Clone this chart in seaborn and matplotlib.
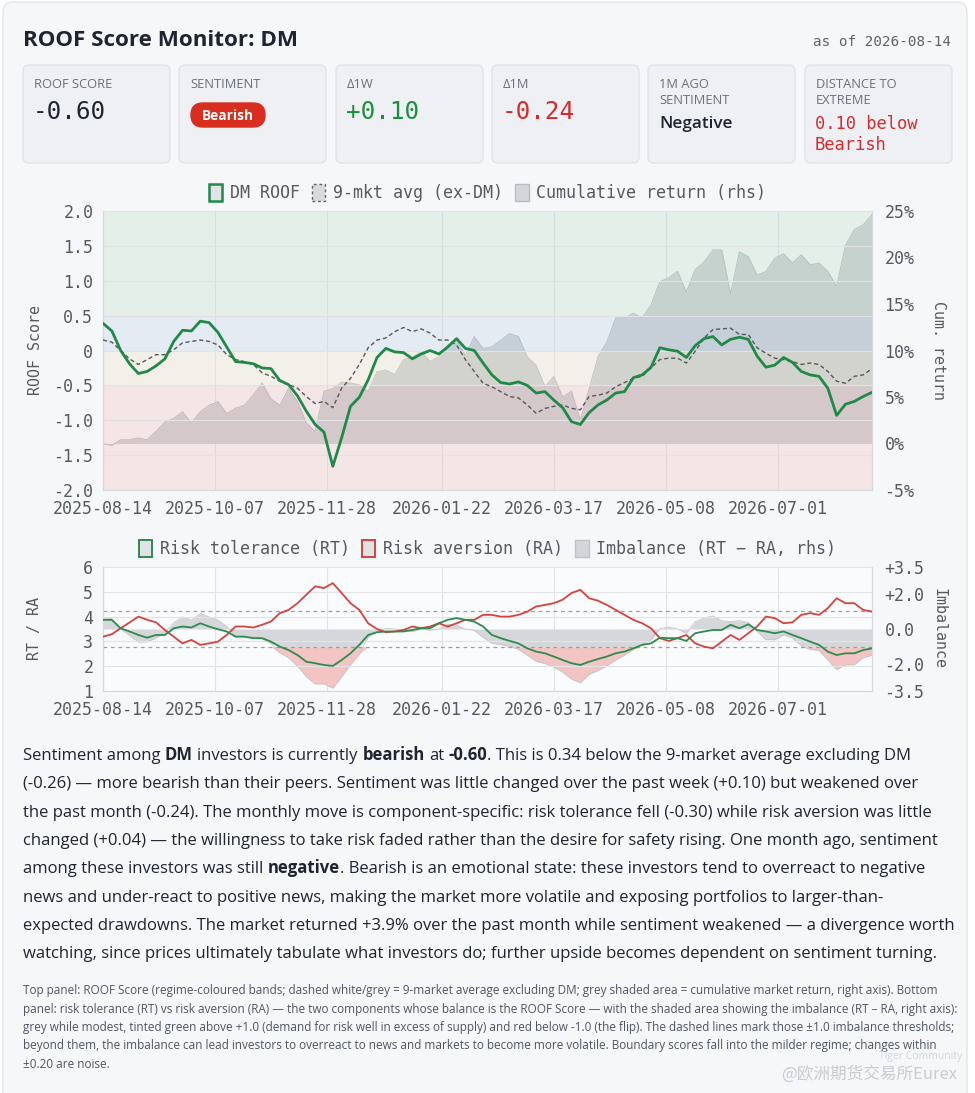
import numpy as np
import pandas as pd
import matplotlib
matplotlib.use("Agg")
import matplotlib.pyplot as plt
import matplotlib.transforms as mtransforms
from matplotlib import font_manager
from matplotlib.patches import FancyBboxPatch, Patch
import seaborn as sns

W, H = 975, 1093
MONO = "DejaVu Sans Mono"

# trading-day calendar; one reading every third trading day
ALL_DAYS = pd.bdate_range("2025-08-14", "2026-08-14")
DAY_POS = np.arange(0, len(ALL_DAYS), 3)
TICK_DATES = ["2025-08-14", "2025-10-07", "2025-11-28", "2026-01-22",
              "2026-03-17", "2026-05-08", "2026-07-01"]

dm_roof = [0.39, 0.28, 0.00, -0.19, -0.33, -0.30, -0.22, -0.12, 0.13, 0.29,
           0.28, 0.42, 0.40, 0.26, 0.05, -0.16, -0.17, -0.19, -0.25, -0.26,
           -0.43, -0.49, -0.65, -0.87, -1.06, -1.17, -1.66, -1.25, -0.80, -0.67,
           -0.42, -0.10, 0.03, -0.02, -0.03, -0.12, -0.05, 0.00, -0.05, 0.05,
           0.17, 0.03, 0.00, -0.18, -0.35, -0.46, -0.48, -0.45, -0.50, -0.61,
           -0.59, -0.71, -0.82, -1.02, -1.06, -0.89, -0.78, -0.71, -0.61, -0.59,
           -0.39, -0.35, -0.24, 0.04, 0.01, -0.01, -0.10, 0.07, 0.17, 0.20,
           0.08, 0.16, 0.19, 0.16, -0.08, -0.24, -0.21, -0.10, -0.17, -0.30,
           -0.35, -0.37, -0.54, -0.93, -0.77, -0.73, -0.66, -0.60]

avg_ex_dm = [0.15, 0.12, 0.00, -0.12, -0.20, -0.13, -0.06, -0.06, 0.01, 0.11,
             0.13, 0.15, 0.13, 0.08, -0.06, -0.13, -0.16, -0.20, -0.32, -0.37,
             -0.44, -0.49, -0.54, -0.66, -0.76, -0.73, -0.82, -0.54, -0.40, -0.20,
             0.04, 0.15, 0.18, 0.27, 0.33, 0.27, 0.31, 0.25, 0.15, 0.15,
             0.08, -0.13, -0.30, -0.47, -0.52, -0.59, -0.66, -0.68, -0.78, -0.90,
             -0.83, -0.80, -0.78, -0.83, -0.85, -0.66, -0.64, -0.61, -0.52, -0.46,
             -0.40, -0.37, -0.25, -0.13, -0.11, -0.11, -0.18, -0.01, 0.18, 0.30,
             0.31, 0.32, 0.23, 0.23, 0.04, -0.04, -0.11, -0.13, -0.16, -0.20,
             -0.18, -0.20, -0.30, -0.44, -0.47, -0.37, -0.35, -0.26]

cum_return = [0.0, -0.2, 0.4, 0.4, 0.6, 0.4, 1.3, 2.3, 2.7, 3.4,
              2.2, 3.4, 4.1, 4.5, 3.2, 3.8, 4.1, 5.2, 6.5, 4.8,
              4.1, 5.9, 4.5, 2.2, 1.3, 5.6, 5.9, 6.6, 6.5, 6.3,
              5.6, 7.7, 7.9, 7.4, 9.0, 9.3, 9.9, 8.8, 9.3, 10.6,
              11.1, 9.5, 11.5, 10.2, 10.4, 11.1, 11.8, 11.5, 9.3, 8.4,
              6.1, 7.2, 5.0, 5.6, 2.5, 5.9, 9.3, 10.9, 13.5, 13.5,
              14.0, 13.5, 14.9, 17.4, 17.8, 18.5, 16.3, 18.7, 19.5, 20.8,
              20.8, 16.1, 20.6, 20.1, 18.1, 18.5, 19.9, 20.4, 19.4, 20.3,
              19.2, 19.4, 18.5, 16.9, 21.3, 23.0, 23.5, 24.6]

risk_tol = [3.87, 3.87, 3.53, 3.40, 3.26, 3.15, 3.26, 3.26, 3.53, 3.60,
            3.56, 3.73, 3.60, 3.49, 3.40, 3.19, 3.19, 3.13, 3.13, 2.99,
            2.79, 2.65, 2.45, 2.18, 2.12, 2.05, 2.01, 2.25, 2.52, 2.86,
            3.26, 3.37, 3.40, 3.40, 3.40, 3.46, 3.53, 3.53, 3.73, 3.87,
            3.94, 3.87, 3.80, 3.60, 3.26, 3.13, 3.02, 2.92, 2.72, 2.59,
            2.52, 2.39, 2.25, 2.12, 2.05, 2.18, 2.29, 2.39, 2.52, 2.59,
            2.72, 2.86, 2.92, 3.15, 3.13, 3.13, 3.02, 3.33, 3.40, 3.46,
            3.46, 3.67, 3.53, 3.69, 3.46, 3.40, 3.33, 3.40, 3.26, 3.13,
            2.99, 2.86, 2.59, 2.45, 2.52, 2.52, 2.65, 2.72]

risk_av = [3.19, 3.29, 3.53, 3.76, 4.00, 3.87, 3.77, 3.46, 3.19, 2.92,
           3.06, 2.86, 2.92, 2.99, 3.26, 3.60, 3.60, 3.56, 3.67, 3.80,
           4.14, 4.27, 4.54, 4.88, 5.22, 5.15, 5.35, 4.95, 4.54, 4.27,
           3.73, 3.50, 3.37, 3.40, 3.46, 3.60, 3.53, 3.60, 3.73, 3.60,
           3.73, 3.87, 3.87, 4.07, 4.07, 4.00, 4.00, 4.07, 4.20, 4.41,
           4.47, 4.54, 4.68, 4.95, 5.08, 4.74, 4.64, 4.47, 4.27, 4.07,
           3.87, 3.73, 3.53, 3.13, 3.02, 3.13, 3.26, 2.92, 2.79, 2.72,
           2.99, 3.26, 3.06, 3.33, 3.60, 4.00, 3.94, 3.73, 3.77, 4.07,
           4.14, 4.07, 4.34, 4.74, 4.54, 4.54, 4.27, 4.20]

ROOF_TICKS = [2.0, 1.5, 1.0, 0.5, 0.0, -0.5, -1.0, -1.5, -2.0]
ROOF_TICK_LABELS = ["2.0", "1.5", "1.0", "0.5", "0", "-0.5", "-1.0", "-1.5", "-2.0"]
RET_TICKS = [25, 20, 15, 10, 5, 0, -5]
RTRA_TICKS = [1, 2, 3, 4, 5, 6]
IMB_TICKS = [3.5, 2.0, 0.0, -2.0, -3.5]
IMB_TICK_LABELS = ["+3.5", "+2.0", "0.0", "-2.0", "-3.5"]
IMB_THRESH = 1.0

# regime bands (drawn half-transparent over the return area)
BANDS = [(0.5, 2.0, "#cde1d5"), (0.0, 0.5, "#cdd9e7"),
         (-0.5, 0.0, "#e7e3d5"), (-2.0, -0.5, "#ebcdcf")]

GREEN = "#1f8a48"
RED = "#d6433f"
TXT = "#1f2430"
GREY_TXT = "#555a60"

CARDS = [
    (["ROOF SCORE"], "-0.60", TXT),
    (["SENTIMENT"], "Bearish", "pill"),
    (["Δ1W"], "+0.10", "#1a8f3e"),
    (["Δ1M"], "-0.24", "#d92b2b"),
    (["1M AGO", "SENTIMENT"], "Negative", "word"),
    (["DISTANCE TO", "EXTREME"], "0.10 below\nBearish", "#d92b2b"),
]

PARAGRAPH = [
    "Sentiment among **DM** investors is currently **bearish** at **-0.60**. This is 0.34 below the 9-market average excluding DM",
    "(-0.26) — more bearish than their peers. Sentiment was little changed over the past week (+0.10) but weakened over",
    "the past month (-0.24). The monthly move is component-specific: risk tolerance fell (-0.30) while risk aversion was little",
    "changed (+0.04) — the willingness to take risk faded rather than the desire for safety rising. One month ago, sentiment",
    "among these investors was still **negative**. Bearish is an emotional state: these investors tend to overreact to negative",
    "news and under-react to positive news, making the market more volatile and exposing portfolios to larger-than-",
    "expected drawdowns. The market returned +3.9% over the past month while sentiment weakened — a divergence worth",
    "watching, since prices ultimately tabulate what investors do; further upside becomes dependent on sentiment turning.",
]

FOOTNOTE = [
    "Top panel: ROOF Score (regime-coloured bands; dashed white/grey = 9-market average excluding DM; grey shaded area = cumulative market return, right axis). Bottom",
    "panel: risk tolerance (RT) vs risk aversion (RA) — the two components whose balance is the ROOF Score — with the shaded area showing the imbalance (RT – RA, right axis):",
    "grey while modest, tinted green above +1.0 (demand for risk well in excess of supply) and red below -1.0 (the flip). The dashed lines mark those ±1.0 imbalance thresholds;",
    "beyond them, the imbalance can lead investors to overreact to news and markets to become more volatile. Boundary scores fall into the milder regime; changes within",
    "±0.20 are noise.",
]

assert len(DAY_POS) == len(dm_roof) == len(avg_ex_dm) == len(cum_return) == len(risk_tol) == len(risk_av)


def pick_sans():
    # first installed sans family that also ships a bold face
    for fam in ["IBM Plex Sans", "Open Sans", "Noto Sans", "Lato", "Roboto",
                "Inter", "Liberation Sans"]:
        weights = [f.weight for f in font_manager.fontManager.ttflist if f.name == fam]
        heavy = [w for w in weights if (w if isinstance(w, int) else 700 if "bold" in str(w) else 400) >= 600]
        if weights and heavy:
            return fam
    return "DejaVu Sans"


SANS = pick_sans()

sns.set_theme(style="white")
plt.rcParams["font.family"] = [MONO]
plt.rcParams["axes.unicode_minus"] = False

fig = plt.figure(figsize=(W / 100, H / 100), dpi=100, facecolor="white")
renderer = fig.canvas.get_renderer()
ident = mtransforms.IdentityTransform()


def fx(px):
    return px / W


def fy(py):
    return 1 - py / H


def box(x0, y0, x1, y1, fc, ec, r=6, lw=1.0, z=0):
    p = FancyBboxPatch((x0, H - y1), x1 - x0, y1 - y0,
                       boxstyle=f"round,pad=0,rounding_size={r}",
                       fc=fc, ec=ec, lw=lw, transform=ident, zorder=z)
    fig.add_artist(p)


def text_w(s, size, weight="normal", family=None):
    t = fig.text(0, 0, s, fontsize=size, fontweight=weight, family=family or SANS)
    w = t.get_window_extent(renderer=renderer).width
    t.remove()
    return w


def rich_line(x, y, s, size, color):
    # line with **bold** spans; returns the drawn texts and the end x
    space = text_w("a a", size) - text_w("aa", size)
    drawn = []
    for i, seg in enumerate(s.split("**")):
        bold = i % 2 == 1
        body = seg.strip()
        if seg.startswith(" "):
            x += space
        if body:
            t = fig.text(fx(x), fy(y), body, fontsize=size, family=SANS,
                         fontweight="bold" if bold else "normal",
                         color=color, va="baseline")
            drawn.append(t)
            x += t.get_window_extent(renderer=renderer).width
            if seg.endswith(" "):
                x += space
    return drawn, x


def rich_w(s, size):
    drawn, end = rich_line(0, 0, s, size, TXT)
    for t in drawn:
        t.remove()
    return end


# page card
box(3, 2, 967, 1110, "#f6f7f9", "#e4e6ea", r=10, z=-5)

# header
title_size = 16.5 * 274 / text_w("ROOF Score Monitor: DM", 16.5, "bold")
fig.text(fx(23), fy(46), "ROOF Score Monitor: DM", fontsize=title_size,
         fontweight="bold", family=SANS, color=TXT, va="baseline")
fig.text(fx(951), fy(46), "as of 2026-08-14", fontsize=10.3, color="#5f646b",
         ha="right", va="baseline")

# stat cards
card_left = [23, 179, 336, 492, 648, 805]
for left, (label, value, style) in zip(card_left, CARDS):
    box(left, 65, left + 147, 163, "#eef0f4", "#e1e4e9", r=6, z=-4)
    for j, ln in enumerate(label):
        fig.text(fx(left + 11), fy(84 + 17 * j), ln, fontsize=9.3, family=SANS,
                 color="#6b7079", va="center")
    if style == "pill":
        box(left + 12, 103, left + 86, 127, "#d92d20", "#d92d20", r=12, z=-3)
        fig.text(fx(left + 49), fy(115.5), value, fontsize=9.8, family=SANS,
                 fontweight="bold", color="white", ha="center", va="center")
    elif style == "word":
        fig.text(fx(left + 11), fy(124), value, fontsize=12.3, family=SANS,
                 fontweight="semibold", color=TXT, va="center")
    elif "\n" in value:
        for j, ln in enumerate(value.split("\n")):
            fig.text(fx(left + 10), fy(124 + 21 * j), ln, fontsize=12.3,
                     color=style, va="center")
    else:
        fig.text(fx(left + 10), fy(112), value, fontsize=17.5, color=style,
                 va="center")

tick_pos = [ALL_DAYS.get_loc(pd.Timestamp(d)) for d in TICK_DATES]
x_end = len(ALL_DAYS) - 1

# ---------------- top panel ----------------
ax_r = fig.add_axes([fx(103), fy(490), (872 - 103) / W, (490 - 211) / H])
ax = ax_r.twinx()
ax.yaxis.tick_left()
ax_r.yaxis.tick_right()
ax.set_zorder(ax_r.get_zorder() + 1)
ax.patch.set_visible(False)
ax_r.patch.set_visible(True)
ax_r.set_facecolor("white")

ax_r.fill_between(DAY_POS, 0, cum_return, color="#bfc3c8", lw=0, zorder=1)
sns.lineplot(x=DAY_POS, y=cum_return, ax=ax_r, color="#a6aab0", linewidth=0.8, zorder=2)
ax_r.set_ylim(-5, 25)
ax_r.set_yticks(RET_TICKS)
ax_r.set_yticklabels([f"{t}%" for t in RET_TICKS])

for lo, hi, c in BANDS:
    ax.axhspan(lo, hi, color=c, alpha=0.5, lw=0, zorder=0.1)
sns.lineplot(x=DAY_POS, y=avg_ex_dm, ax=ax, color="#55595e", linewidth=1.0,
             linestyle=(0, (3, 2)), zorder=3)
sns.lineplot(x=DAY_POS, y=dm_roof, ax=ax, color=GREEN, linewidth=2.0, zorder=4)
ax.set_ylim(-2.0, 2.0)
ax.set_yticks(ROOF_TICKS)
ax.set_yticklabels(ROOF_TICK_LABELS)

# ---------------- bottom panel ----------------
bx_r = fig.add_axes([fx(103), fy(691), (872 - 103) / W, (691 - 567) / H])
bx = bx_r.twinx()
bx.yaxis.tick_left()
bx_r.yaxis.tick_right()
bx.set_zorder(bx_r.get_zorder() + 1)
bx.patch.set_visible(False)
bx_r.patch.set_visible(True)
bx_r.set_facecolor("#fafbfc")

imbalance = np.array(risk_tol) - np.array(risk_av)
bx_r.fill_between(DAY_POS, 0, np.clip(imbalance, -IMB_THRESH, IMB_THRESH),
                  color="#d5d7db", lw=0, zorder=1)
bx_r.fill_between(DAY_POS, -IMB_THRESH, np.minimum(imbalance, -IMB_THRESH),
                  color="#f2c5c4", lw=0, zorder=1)
bx_r.fill_between(DAY_POS, IMB_THRESH, np.maximum(imbalance, IMB_THRESH),
                  color="#c9e6d0", lw=0, zorder=1)
sns.lineplot(x=DAY_POS, y=imbalance, ax=bx_r, color="#c2c5ca", linewidth=0.6, zorder=2)
for t in (IMB_THRESH, -IMB_THRESH):
    bx_r.axhline(t, color="#9a9ea4", lw=0.9, ls=(0, (3, 3)), zorder=3)
bx_r.set_ylim(-3.5, 3.5)
bx_r.set_yticks(IMB_TICKS)
bx_r.set_yticklabels(IMB_TICK_LABELS)

sns.lineplot(x=DAY_POS, y=risk_av, ax=bx, color=RED, linewidth=1.3, zorder=4)
sns.lineplot(x=DAY_POS, y=risk_tol, ax=bx, color="#2e8b4e", linewidth=1.3, zorder=5)
bx.set_ylim(1, 6)
bx.set_yticks(RTRA_TICKS)

# shared styling
for a in (ax, ax_r, bx, bx_r):
    a.set_xlim(0, x_end)
    a.set_xlabel("")
    a.set_ylabel("")
    a.tick_params(axis="both", labelsize=12, colors=GREY_TXT, length=0)
    for s in a.spines.values():
        s.set_color("#d6d9dd")
        s.set_linewidth(0.8)
    a.spines["top"].set_visible(False)
for a in (ax, bx):
    a.tick_params(axis="y", pad=7)
    a.grid(axis="y", color="#e1e3e7", lw=0.8)
    a.set_axisbelow(True)
for a in (ax_r, bx_r):
    a.tick_params(axis="y", pad=9)
    a.set_xticks(tick_pos)
    a.set_xticklabels(TICK_DATES)
    a.tick_params(axis="x", pad=7)
    a.grid(axis="x", color="#e1e3e7", lw=0.8)

fig.text(fx(35), fy(350), "ROOF Score", rotation=90, fontsize=10.8,
         color=GREY_TXT, ha="center", va="center")
fig.text(fx(939), fy(350), "Cum. return", rotation=270, fontsize=10.8,
         color=GREY_TXT, ha="center", va="center")
fig.text(fx(35), fy(628), "RT / RA", rotation=90, fontsize=10.8,
         color=GREY_TXT, ha="center", va="center")
fig.text(fx(939), fy(628), "Imbalance", rotation=270, fontsize=10.8,
         color=GREY_TXT, ha="center", va="center")

top_handles = [
    Patch(facecolor="#e2e4e7", edgecolor=GREEN, linewidth=1.8, label="DM ROOF"),
    Patch(facecolor="#d8dade", edgecolor="#5f6369", linewidth=1.0,
          linestyle=(0, (2, 2)), label="9-mkt avg (ex-DM)"),
    Patch(facecolor="#d3d5d9", edgecolor="#b9bdc2", linewidth=1.0,
          label="Cumulative return (rhs)"),
]
bot_handles = [
    Patch(facecolor="#e0e2e5", edgecolor="#2e8b4e", linewidth=1.4, label="Risk tolerance (RT)"),
    Patch(facecolor="#e0e2e5", edgecolor=RED, linewidth=1.4, label="Risk aversion (RA)"),
    Patch(facecolor="#d3d5d9", edgecolor="#bfc2c7", linewidth=1.0,
          label="Imbalance (RT − RA, rhs)"),
]
for handles, yc in ((top_handles, 193), (bot_handles, 549)):
    fig.legend(handles=handles, loc="center", bbox_to_anchor=(fx(487.5), fy(yc)),
               ncol=3, frameon=False, fontsize=12, handlelength=0.8,
               handleheight=1.25, handletextpad=0.45, columnspacing=0.75,
               labelcolor=GREY_TXT, borderaxespad=0)

# commentary
para_size = 12 * 928 / max(rich_w(ln, 12) for ln in PARAGRAPH)
for i, ln in enumerate(PARAGRAPH):
    rich_line(23, 760 + i * 28.3, ln, para_size, TXT)

foot_size = 8.5 * 929 / max(text_w(ln, 8.5) for ln in FOOTNOTE)
for i, ln in enumerate(FOOTNOTE):
    fig.text(fx(23), fy(994 + i * 18.5), ln, fontsize=foot_size, family=SANS,
             color="#4f5561", va="baseline")

# faint platform watermark
fig.text(fx(962), fy(1057), "Tiger Community", fontsize=7.5, family=SANS,
         color="#d3d6da", ha="right", va="center")
fig.text(fx(957), fy(1074), "@欧洲期货交易所Eurex", fontsize=12,
         family=["Noto Sans CJK SC", "DejaVu Sans"], color="#c9ccd1",
         ha="right", va="center")

fig.savefig("out.png", dpi=100, facecolor="white")
